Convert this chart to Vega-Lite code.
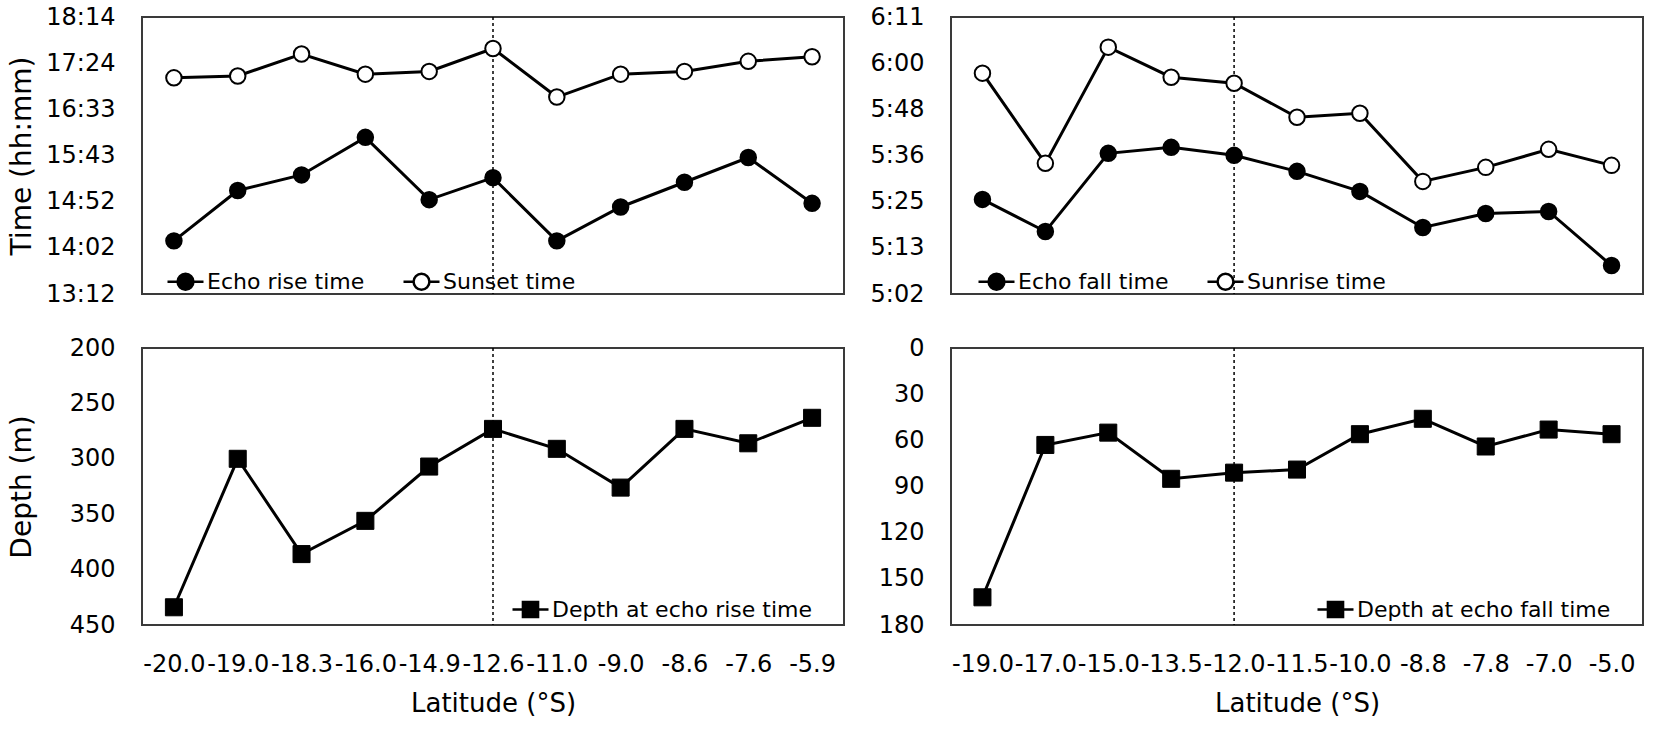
{
  "$schema": "https://vega.github.io/schema/vega-lite/v6.json",
  "padding": {"left": 7, "top": 4, "right": 5, "bottom": 4},
  "bounds": "flush",
  "columns": 2,
  "spacing": {"row": 54, "column": 107},
  "datasets": {
    "evening": [
      {"latitude": "-20.0", "series": "Echo rise time", "minutes": 850},
      {"latitude": "-19.0", "series": "Echo rise time", "minutes": 905},
      {"latitude": "-18.3", "series": "Echo rise time", "minutes": 922},
      {"latitude": "-16.0", "series": "Echo rise time", "minutes": 963},
      {"latitude": "-14.9", "series": "Echo rise time", "minutes": 895},
      {"latitude": "-12.6", "series": "Echo rise time", "minutes": 919},
      {"latitude": "-11.0", "series": "Echo rise time", "minutes": 850},
      {"latitude": "-9.0", "series": "Echo rise time", "minutes": 887},
      {"latitude": "-8.6", "series": "Echo rise time", "minutes": 914},
      {"latitude": "-7.6", "series": "Echo rise time", "minutes": 941},
      {"latitude": "-5.9", "series": "Echo rise time", "minutes": 891},
      {"latitude": "-20.0", "series": "Sunset time", "minutes": 1028},
      {"latitude": "-19.0", "series": "Sunset time", "minutes": 1030},
      {"latitude": "-18.3", "series": "Sunset time", "minutes": 1054},
      {"latitude": "-16.0", "series": "Sunset time", "minutes": 1032},
      {"latitude": "-14.9", "series": "Sunset time", "minutes": 1035},
      {"latitude": "-12.6", "series": "Sunset time", "minutes": 1060},
      {"latitude": "-11.0", "series": "Sunset time", "minutes": 1007},
      {"latitude": "-9.0", "series": "Sunset time", "minutes": 1032},
      {"latitude": "-8.6", "series": "Sunset time", "minutes": 1035},
      {"latitude": "-7.6", "series": "Sunset time", "minutes": 1046},
      {"latitude": "-5.9", "series": "Sunset time", "minutes": 1051}
    ],
    "morning": [
      {"latitude": "-19.0", "series": "Echo fall time", "minutes": 326},
      {"latitude": "-17.0", "series": "Echo fall time", "minutes": 318},
      {"latitude": "-15.0", "series": "Echo fall time", "minutes": 337.5},
      {"latitude": "-13.5", "series": "Echo fall time", "minutes": 339},
      {"latitude": "-12.0", "series": "Echo fall time", "minutes": 337},
      {"latitude": "-11.5", "series": "Echo fall time", "minutes": 333},
      {"latitude": "-10.0", "series": "Echo fall time", "minutes": 328},
      {"latitude": "-8.8", "series": "Echo fall time", "minutes": 319},
      {"latitude": "-7.8", "series": "Echo fall time", "minutes": 322.5},
      {"latitude": "-7.0", "series": "Echo fall time", "minutes": 323},
      {"latitude": "-5.0", "series": "Echo fall time", "minutes": 309.5},
      {"latitude": "-19.0", "series": "Sunrise time", "minutes": 357.5},
      {"latitude": "-17.0", "series": "Sunrise time", "minutes": 335},
      {"latitude": "-15.0", "series": "Sunrise time", "minutes": 364},
      {"latitude": "-13.5", "series": "Sunrise time", "minutes": 356.5},
      {"latitude": "-12.0", "series": "Sunrise time", "minutes": 355},
      {"latitude": "-11.5", "series": "Sunrise time", "minutes": 346.5},
      {"latitude": "-10.0", "series": "Sunrise time", "minutes": 347.5},
      {"latitude": "-8.8", "series": "Sunrise time", "minutes": 330.5},
      {"latitude": "-7.8", "series": "Sunrise time", "minutes": 334},
      {"latitude": "-7.0", "series": "Sunrise time", "minutes": 338.5},
      {"latitude": "-5.0", "series": "Sunrise time", "minutes": 334.5}
    ],
    "rise_depth": [
      {"latitude": "-20.0", "series": "Depth at echo rise time", "depth": 434},
      {"latitude": "-19.0", "series": "Depth at echo rise time", "depth": 300},
      {"latitude": "-18.3", "series": "Depth at echo rise time", "depth": 386},
      {"latitude": "-16.0", "series": "Depth at echo rise time", "depth": 356},
      {"latitude": "-14.9", "series": "Depth at echo rise time", "depth": 307},
      {"latitude": "-12.6", "series": "Depth at echo rise time", "depth": 273},
      {"latitude": "-11.0", "series": "Depth at echo rise time", "depth": 291},
      {"latitude": "-9.0", "series": "Depth at echo rise time", "depth": 326},
      {"latitude": "-8.6", "series": "Depth at echo rise time", "depth": 273},
      {"latitude": "-7.6", "series": "Depth at echo rise time", "depth": 286},
      {"latitude": "-5.9", "series": "Depth at echo rise time", "depth": 263}
    ],
    "fall_depth": [
      {"latitude": "-19.0", "series": "Depth at echo fall time", "depth": 162},
      {"latitude": "-17.0", "series": "Depth at echo fall time", "depth": 63},
      {"latitude": "-15.0", "series": "Depth at echo fall time", "depth": 55},
      {"latitude": "-13.5", "series": "Depth at echo fall time", "depth": 85},
      {"latitude": "-12.0", "series": "Depth at echo fall time", "depth": 81},
      {"latitude": "-11.5", "series": "Depth at echo fall time", "depth": 79},
      {"latitude": "-10.0", "series": "Depth at echo fall time", "depth": 56},
      {"latitude": "-8.8", "series": "Depth at echo fall time", "depth": 46},
      {"latitude": "-7.8", "series": "Depth at echo fall time", "depth": 64},
      {"latitude": "-7.0", "series": "Depth at echo fall time", "depth": 53},
      {"latitude": "-5.0", "series": "Depth at echo fall time", "depth": 56}
    ],
    "boundary_left": [{"latitude": "-12.6"}],
    "boundary_right": [{"latitude": "-12.0"}]
  },
  "config": {
    "font": "DejaVu Sans",
    "view": {"stroke": "#3a3a3a", "strokeWidth": 2},
    "axis": {"grid": false, "domain": false, "ticks": false, "labelFont": "DejaVu Sans", "labelFontSize": 24, "labelColor": "black", "titleFont": "DejaVu Sans", "titleColor": "black", "titleFontWeight": "normal"},
    "axisY": {"labelPadding": 27, "titleFontSize": 28, "titleX": -120, "titleBaseline": "middle"},
    "axisX": {"labelPadding": 27, "titleFontSize": 26, "labelAngle": 0, "titlePadding": 14},
    "legend": {"orient": "none", "direction": "horizontal", "title": null, "labelFont": "DejaVu Sans", "labelFontSize": 22, "labelColor": "black", "labelLimit": 500, "symbolSize": 1296, "symbolStrokeColor": "black", "symbolStrokeWidth": 2.5, "columnPadding": 33, "labelOffset": 2, "padding": 0, "symbolOpacity": 1}
  },
  "resolve": {"scale": {"fill": "independent", "x": "independent", "y": "independent"}, "legend": {"fill": "independent"}},
  "concat": [
    {
      "width": 702,
      "height": 277,
      "encoding": {
        "x": {"field": "latitude", "type": "nominal", "axis": null, "scale": {"type": "point", "padding": 0.5, "domain": ["-20.0", "-19.0", "-18.3", "-16.0", "-14.9", "-12.6", "-11.0", "-9.0", "-8.6", "-7.6", "-5.9"]}}
      },
      "layer": [
        {"data": {"name": "boundary_left"}, "mark": {"type": "rule", "strokeDash": [3, 3], "strokeWidth": 1.5, "color": "black"}, "encoding": {}},
        {"data": {"name": "evening"}, "mark": {"type": "line", "stroke": "black", "strokeWidth": 3},
         "encoding": {"detail": {"field": "series"},
           "y": {"field": "minutes", "type": "quantitative", "title": "Time (hh:mm)", "scale": {"domain": [792, 1094.4], "nice": false, "zero": false}, "axis": {"values": [792, 842.4, 892.8, 943.2, 993.6, 1044, 1094.4], "labelExpr": "floor(datum.value/60) + ':' + (floor(datum.value%60) < 10 ? '0' : '') + floor(datum.value%60)"}}}},
        {"data": {"name": "evening"}, "mark": {"type": "point", "shape": "circle", "filled": true, "stroke": "black", "strokeWidth": 2, "size": 240, "opacity": 1},
         "encoding": {"y": {"field": "minutes", "type": "quantitative"},
           "fill": {"field": "series", "type": "nominal", "scale": {"domain": ["Echo rise time", "Sunset time"], "range": ["black", "white"]}, "legend": {"legendX": 24, "legendY": 245, "symbolType": "M-1,0L-0.44,0M0.44,0L1,0M0.44,0A0.44,0.44 0 1 1 -0.44,0A0.44,0.44 0 1 1 0.44,0Z"}}}}
      ]
    },
    {
      "width": 692,
      "height": 277,
      "encoding": {
        "x": {"field": "latitude", "type": "nominal", "axis": null, "scale": {"type": "point", "padding": 0.5, "domain": ["-19.0", "-17.0", "-15.0", "-13.5", "-12.0", "-11.5", "-10.0", "-8.8", "-7.8", "-7.0", "-5.0"]}}
      },
      "layer": [
        {"data": {"name": "boundary_right"}, "mark": {"type": "rule", "strokeDash": [3, 3], "strokeWidth": 1.5, "color": "black"}, "encoding": {}},
        {"data": {"name": "morning"}, "mark": {"type": "line", "stroke": "black", "strokeWidth": 3},
         "encoding": {"detail": {"field": "series"},
           "y": {"field": "minutes", "type": "quantitative", "title": null, "scale": {"domain": [302.4, 371.52], "nice": false, "zero": false}, "axis": {"values": [302.4, 313.92, 325.44, 336.96, 348.48, 360, 371.52], "labelExpr": "floor(datum.value/60) + ':' + (floor(datum.value%60) < 10 ? '0' : '') + floor(datum.value%60)"}}}},
        {"data": {"name": "morning"}, "mark": {"type": "point", "shape": "circle", "filled": true, "stroke": "black", "strokeWidth": 2, "size": 240, "opacity": 1},
         "encoding": {"y": {"field": "minutes", "type": "quantitative"},
           "fill": {"field": "series", "type": "nominal", "scale": {"domain": ["Echo fall time", "Sunrise time"], "range": ["black", "white"]}, "legend": {"legendX": 26, "legendY": 245, "symbolType": "M-1,0L-0.44,0M0.44,0L1,0M0.44,0A0.44,0.44 0 1 1 -0.44,0A0.44,0.44 0 1 1 0.44,0Z"}}}}
      ]
    },
    {
      "width": 702,
      "height": 277,
      "encoding": {
        "x": {"field": "latitude", "type": "nominal", "title": "Latitude (°S)", "scale": {"type": "point", "padding": 0.5, "domain": ["-20.0", "-19.0", "-18.3", "-16.0", "-14.9", "-12.6", "-11.0", "-9.0", "-8.6", "-7.6", "-5.9"]}}
      },
      "layer": [
        {"data": {"name": "boundary_left"}, "mark": {"type": "rule", "strokeDash": [3, 3], "strokeWidth": 1.5, "color": "black"}, "encoding": {}},
        {"data": {"name": "rise_depth"}, "mark": {"type": "line", "stroke": "black", "strokeWidth": 3},
         "encoding": {"y": {"field": "depth", "type": "quantitative", "title": "Depth (m)", "scale": {"domain": [200, 450], "nice": false, "zero": false, "reverse": true}, "axis": {"values": [200, 250, 300, 350, 400, 450]}}}},
        {"data": {"name": "rise_depth"}, "mark": {"type": "point", "shape": "square", "filled": true, "stroke": "black", "strokeWidth": 1, "size": 290, "opacity": 1},
         "encoding": {"y": {"field": "depth", "type": "quantitative"},
           "fill": {"field": "series", "type": "nominal", "scale": {"domain": ["Depth at echo rise time"], "range": ["black"]}, "legend": {"legendX": 369, "legendY": 242, "symbolType": "M-1,0L-0.42,0M0.42,0L1,0M-0.42,-0.42L0.42,-0.42L0.42,0.42L-0.42,0.42Z"}}}}
      ]
    },
    {
      "width": 692,
      "height": 277,
      "encoding": {
        "x": {"field": "latitude", "type": "nominal", "title": "Latitude (°S)", "scale": {"type": "point", "padding": 0.5, "domain": ["-19.0", "-17.0", "-15.0", "-13.5", "-12.0", "-11.5", "-10.0", "-8.8", "-7.8", "-7.0", "-5.0"]}}
      },
      "layer": [
        {"data": {"name": "boundary_right"}, "mark": {"type": "rule", "strokeDash": [3, 3], "strokeWidth": 1.5, "color": "black"}, "encoding": {}},
        {"data": {"name": "fall_depth"}, "mark": {"type": "line", "stroke": "black", "strokeWidth": 3},
         "encoding": {"y": {"field": "depth", "type": "quantitative", "title": null, "scale": {"domain": [0, 180], "nice": false, "reverse": true}, "axis": {"values": [0, 30, 60, 90, 120, 150, 180]}}}},
        {"data": {"name": "fall_depth"}, "mark": {"type": "point", "shape": "square", "filled": true, "stroke": "black", "strokeWidth": 1, "size": 290, "opacity": 1},
         "encoding": {"y": {"field": "depth", "type": "quantitative"},
           "fill": {"field": "series", "type": "nominal", "scale": {"domain": ["Depth at echo fall time"], "range": ["black"]}, "legend": {"legendX": 365, "legendY": 242, "symbolType": "M-1,0L-0.42,0M0.42,0L1,0M-0.42,-0.42L0.42,-0.42L0.42,0.42L-0.42,0.42Z"}}}}
      ]
    }
  ]
}
